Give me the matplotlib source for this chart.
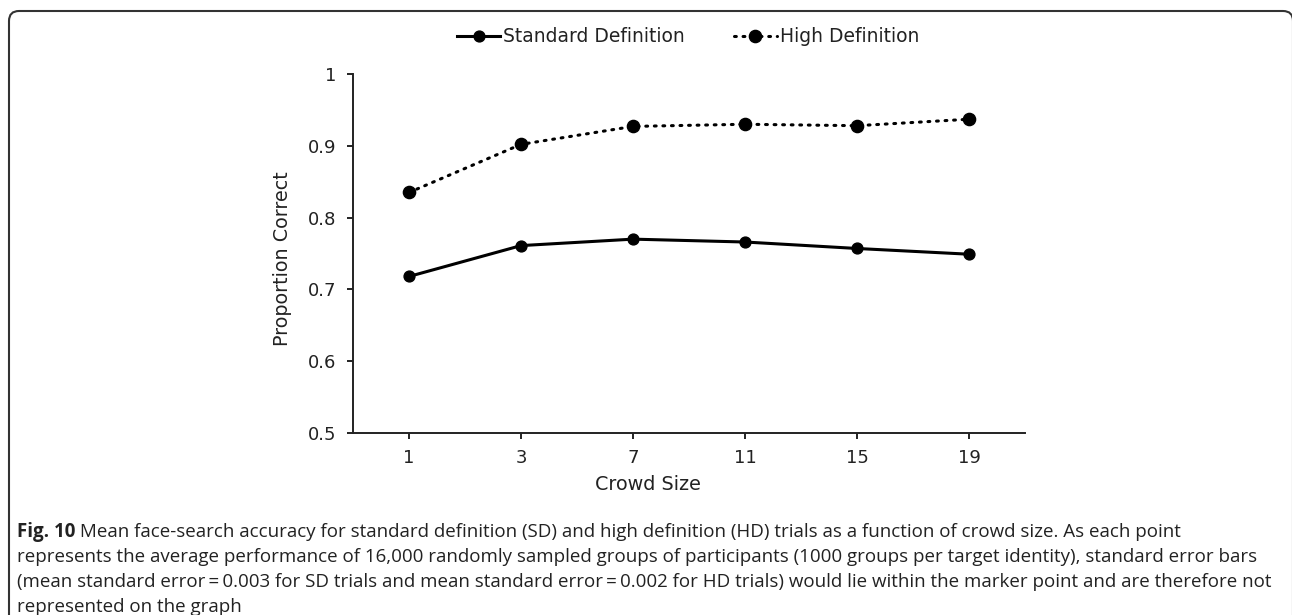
import matplotlib
matplotlib.use("Agg")
import matplotlib.pyplot as plt
from matplotlib.patches import FancyBboxPatch
from matplotlib.transforms import IdentityTransform

crowd_sizes = ["1", "3", "7", "11", "15", "19"]
sd_values = [0.718, 0.761, 0.770, 0.766, 0.757, 0.749]
hd_values = [0.835, 0.902, 0.927, 0.930, 0.928, 0.937]

caption_bold = "Fig. 10"
caption_lines = [
    " Mean face-search accuracy for standard definition (SD) and high definition (HD) trials as a function of crowd size. As each point",
    "represents the average performance of 16,000 randomly sampled groups of participants (1000 groups per target identity), standard error bars",
    "(mean standard error\u2009=\u20090.003 for SD trials and mean standard error\u2009=\u20090.002 for HD trials) would lie within the marker point and are therefore not",
    "represented on the graph",
]

plt.rcParams['font.family'] = ['DejaVu Sans']
ink = "#222222"

W, H = 1292, 615
fig = plt.figure(figsize=(W / 100, H / 100), dpi=100)
ax = fig.add_axes([353 / W, 1 - 433 / H, (1025 - 353) / W, (433 - 74) / H])

x = range(len(crowd_sizes))
ax.plot(x, sd_values, color="black", lw=2.2, marker="o", ms=7.8,
        label="Standard Definition")
ax.plot(x, hd_values, color="black", lw=2.2, marker="o", ms=8.8,
        linestyle=(0, (0.6, 2.2)), dash_capstyle="round",
        label="High Definition")

ax.set_xlim(-0.5, len(crowd_sizes) - 0.5)
ax.set_ylim(0.5, 1.0)
ax.set_xticks(list(x))
ax.set_xticklabels(crowd_sizes, family="DejaVu Sans")
ax.set_yticks([0.5, 0.6, 0.7, 0.8, 0.9, 1.0])
ax.set_yticklabels(["0.5", "0.6", "0.7", "0.8", "0.9", "1"], family="DejaVu Sans")
for s in ["top", "right"]:
    ax.spines[s].set_visible(False)
for s in ["left", "bottom"]:
    ax.spines[s].set_linewidth(1.4)
    ax.spines[s].set_color(ink)
ax.tick_params(axis="both", labelsize=13, colors=ink, width=1.4,
               length=4.3, direction="out")
ax.tick_params(axis="x", pad=7)
ax.tick_params(axis="y", pad=8)

ax.set_xlabel("Crowd Size", fontsize=13.8, color=ink, family="DejaVu Sans")
ax.xaxis.label.set_va("center")
ax.xaxis.set_label_coords((648 - 353) / 672, (433 - 485) / 359)
ax.set_ylabel("Proportion Correct", fontsize=13.8, color=ink, family="DejaVu Sans")
ax.yaxis.label.set_va("center")
ax.yaxis.set_label_coords((282 - 353) / 672, (433 - 259) / 359)

fig.legend(loc="center", bbox_to_anchor=(688 / W, 1 - 37 / H), ncol=2,
           frameon=False, prop={"family": "DejaVu Sans", "size": 13.5},
           handlelength=2.3, columnspacing=2.6, handletextpad=0.15,
           labelcolor=ink)

# frame around the figure panel
box = FancyBboxPatch((9, -30), W + 1 - 9, H - 11 + 30,
                     boxstyle="round,pad=0,rounding_size=10",
                     transform=IdentityTransform(), fill=False,
                     edgecolor="#333333", lw=1.5)
fig.patches.append(box)

# caption
cap_size = 13.5
y0 = 1 - 532 / H
t = fig.text(17 / W, y0, caption_bold, fontsize=cap_size, fontweight="bold",
             family="Open Sans", color=ink, va="center")
fig.canvas.draw()
bb = t.get_window_extent()
fig.text(bb.x1 / W, y0, caption_lines[0], fontsize=cap_size, family="Open Sans",
         color=ink, va="center")
for i, line in enumerate(caption_lines[1:], start=1):
    fig.text(17 / W, y0 - i * 25 / H, line, fontsize=cap_size, family="Open Sans",
             color=ink, va="center")

fig.savefig("out.png", dpi=100)
